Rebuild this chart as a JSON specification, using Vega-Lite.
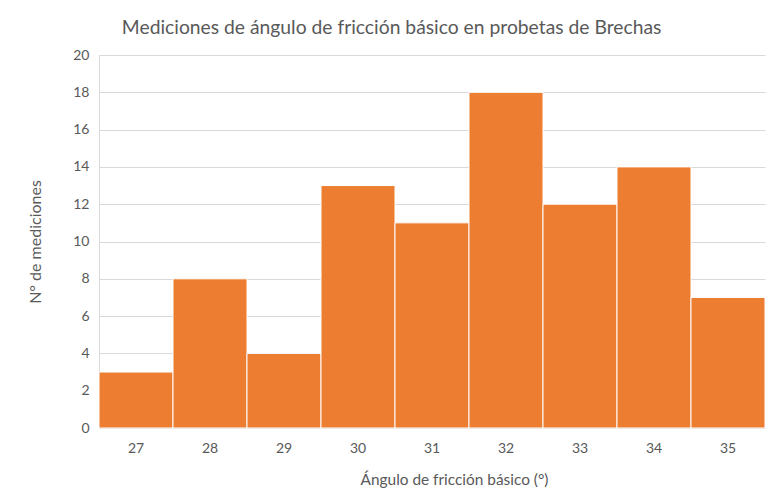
{
  "$schema": "https://vega.github.io/schema/vega-lite/v6.json",
  "autosize": {"type": "none"},
  "padding": {"left": 99, "top": 55, "right": 1, "bottom": 65},
  "width": 666,
  "height": 373,
  "background": "white",
  "title": {
    "text": "Mediciones de ángulo de fricción básico en probetas de Brechas",
    "font": "Lato",
    "fontSize": 19.3,
    "fontWeight": "normal",
    "color": "#595959",
    "anchor": "middle",
    "frame": "bounds",
    "offset": 10,
    "dx": -5
  },
  "data": {
    "values": [
      {"angulo": "27", "n": 3},
      {"angulo": "28", "n": 8},
      {"angulo": "29", "n": 4},
      {"angulo": "30", "n": 13},
      {"angulo": "31", "n": 11},
      {"angulo": "32", "n": 18},
      {"angulo": "33", "n": 12},
      {"angulo": "34", "n": 14},
      {"angulo": "35", "n": 7}
    ]
  },
  "mark": {"type": "bar", "color": "#ED7D31", "stroke": "white", "strokeWidth": 1},
  "encoding": {
    "x": {
      "field": "angulo",
      "type": "ordinal",
      "sort": null,
      "scale": {"paddingInner": 0, "paddingOuter": 0},
      "axis": {
        "title": "Ángulo de fricción básico (°)",
        "labelAngle": 0,
        "ticks": false,
        "labelPadding": 13,
        "titlePadding": 17,
        "titleX": 355,
        "titleFontSize": 15.4,
        "domainColor": "#d9d9d9"
      }
    },
    "y": {
      "field": "n",
      "type": "quantitative",
      "scale": {"domain": [0, 20], "nice": false},
      "axis": {
        "title": "N° de mediciones",
        "values": [0, 2, 4, 6, 8, 10, 12, 14, 16, 18, 20],
        "ticks": false,
        "labelPadding": 10,
        "titlePadding": 29,
        "titleFontSize": 16,
        "domainColor": "#d9d9d9",
        "gridColor": "#d9d9d9"
      }
    }
  },
  "config": {
    "view": {"stroke": null},
    "axis": {
      "labelFont": "Lato",
      "titleFont": "Lato",
      "labelFontSize": 14,
      "titleFontSize": 15,
      "titleFontWeight": "normal",
      "labelColor": "#595959",
      "titleColor": "#595959"
    }
  }
}
